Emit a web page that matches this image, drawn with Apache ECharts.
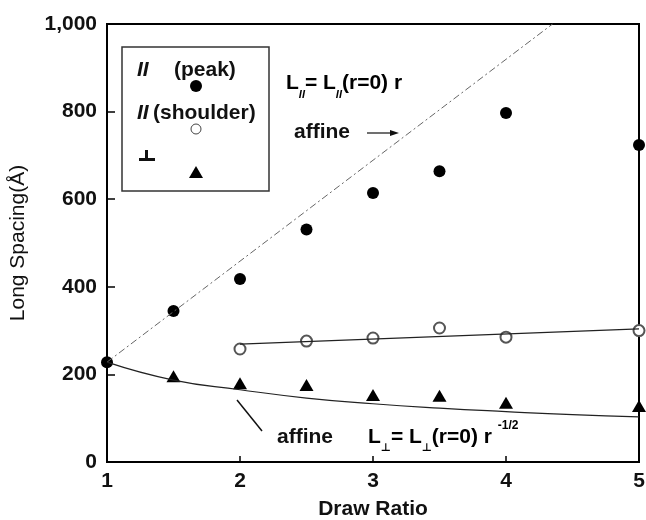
<!DOCTYPE html>
<html>
<head>
<meta charset="utf-8">
<style>
  html, body { margin: 0; padding: 0; background: #fff; }
  #chart { width: 646px; height: 520px; }
</style>
<script src="https://cdn.jsdelivr.net/npm/echarts@6/dist/echarts.min.js"></script>
</head>
<body>
<div id="chart"></div>
<script>
  // measured points (draw ratio, long spacing in Å)
  const peakX = [1, 1.5, 2, 2.5, 3, 3.5, 4, 5];
  const peakY = [228, 345, 418, 531, 614, 664, 797, 724];
  const shoulderX = [2, 2.5, 3, 3.5, 4, 5];
  const shoulderY = [258, 276, 283, 306, 285, 300];
  const perpX = [1.5, 2, 2.5, 3, 3.5, 4, 5];
  const perpY = [196, 180, 176, 153, 151, 135, 128];

  // drawn guide lines
  const affineParX = [1, 4.35];
  const affineParY = [228, 1000];
  const shoulderFitX = [2, 5];
  const shoulderFitY = [269, 304];
  const affinePerpX = [1, 1.5, 2, 2.5, 3, 3.5, 4, 4.5, 5];
  const affinePerpY = [228, 187, 165, 146, 133, 123, 115, 108, 103];

  const xTicks = [1, 2, 3, 4, 5];
  const yTicks = [0, 200, 400, 600, 800, 1000];

  const FONT = '"Liberation Sans", Arial, sans-serif';
  const zip = (xs, ys) => xs.map((x, i) => [x, ys[i]]);

  const chart = echarts.init(document.getElementById('chart'));

  const rich = {
    m: { fontFamily: FONT, fontSize: 21, fontWeight: 'bold', color: '#111', lineHeight: 22, verticalAlign: 'middle' },
    sub: { fontFamily: FONT, fontSize: 11, fontWeight: 'bold', fontStyle: 'italic', color: '#111', lineHeight: 34, verticalAlign: 'bottom' },
    subp: { fontFamily: '"DejaVu Sans", sans-serif', fontSize: 11, fontWeight: 'bold', color: '#111', lineHeight: 34, verticalAlign: 'bottom' },
    sup: { fontFamily: FONT, fontSize: 12, fontWeight: 'bold', color: '#111', lineHeight: 34, verticalAlign: 'top' },
  };

  const textStyle = (extra) => Object.assign({
    fontFamily: FONT, fontSize: 21, fontWeight: 'bold', fill: '#111',
  }, extra);

  chart.setOption({
    animation: false,
    backgroundColor: '#fff',
    grid: {
      left: 107, top: 24, right: 7, bottom: 58,
      outerBoundsMode: 'none',
      show: true, borderColor: '#000', borderWidth: 2,
    },
    xAxis: {
      type: 'value',
      min: xTicks[0],
      max: xTicks[xTicks.length - 1],
      interval: 1,
      name: 'Draw Ratio',
      nameLocation: 'middle',
      nameGap: 37,
      nameTextStyle: { fontFamily: FONT, fontSize: 21, fontWeight: 'bold', color: '#111' },
      axisLine: { lineStyle: { color: '#000', width: 2 } },
      axisTick: { inside: true, length: 6, lineStyle: { color: '#000', width: 1.5 } },
      axisLabel: { margin: 9, fontFamily: FONT, fontSize: 21, fontWeight: 'bold', color: '#111' },
      splitLine: { show: false },
    },
    yAxis: {
      type: 'value',
      min: yTicks[0],
      max: yTicks[yTicks.length - 1],
      interval: 200,
      name: 'Long Spacing(Å)',
      nameLocation: 'middle',
      nameGap: 78,
      nameTextStyle: { fontFamily: FONT, fontSize: 21, color: '#111' },
      axisLine: { lineStyle: { color: '#000', width: 2 } },
      axisTick: { inside: true, length: 8, lineStyle: { color: '#000', width: 1.5 } },
      axisLabel: {
        margin: 10, fontFamily: FONT, fontSize: 21, fontWeight: 'bold', color: '#111',
        formatter: (v) => v.toLocaleString('en-US'),
      },
      splitLine: { show: false },
    },
    series: [
      {
        type: 'line', name: 'affine //', data: zip(affineParX, affineParY),
        showSymbol: false, clip: true,
        lineStyle: { color: '#666', width: 1, type: [7, 3, 2, 3] },
      },
      {
        type: 'line', name: 'shoulder fit', data: zip(shoulderFitX, shoulderFitY),
        showSymbol: false,
        lineStyle: { color: '#222', width: 1.2 },
      },
      {
        type: 'line', name: 'affine perp', data: zip(affinePerpX, affinePerpY),
        showSymbol: false, smooth: true,
        lineStyle: { color: '#222', width: 1.2 },
      },
      {
        type: 'scatter', name: 'peak', data: zip(peakX, peakY), clip: false,
        symbol: 'circle', symbolSize: 12,
        itemStyle: { color: '#000', opacity: 1 },
      },
      {
        type: 'scatter', name: 'shoulder', data: zip(shoulderX, shoulderY), clip: false,
        symbol: 'emptyCircle', symbolSize: 11,
        itemStyle: { color: '#555', borderColor: '#555', borderWidth: 1, opacity: 1 },
      },
      {
        type: 'scatter', name: 'perp', data: zip(perpX, perpY), clip: false,
        symbol: 'triangle', symbolSize: [14, 12],
        itemStyle: { color: '#000', opacity: 1 },
      },
    ],
    graphic: [
      // legend box
      { type: 'rect', shape: { x: 122, y: 47, width: 147, height: 144 },
        style: { fill: '#fff', stroke: '#333', lineWidth: 1.5 }, z: 10 },
      { type: 'text', x: 137, y: 70, z: 11,
        style: textStyle({ text: 'II', fontStyle: 'italic', verticalAlign: 'middle' }) },
      { type: 'text', x: 174, y: 70, z: 11,
        style: textStyle({ text: '(peak)', verticalAlign: 'middle' }) },
      { type: 'circle', shape: { cx: 196, cy: 86, r: 6 }, style: { fill: '#000' }, z: 11 },
      { type: 'text', x: 137, y: 113, z: 11,
        style: textStyle({ text: 'II', fontStyle: 'italic', verticalAlign: 'middle' }) },
      { type: 'text', x: 153, y: 113, z: 11,
        style: textStyle({ text: '(shoulder)', verticalAlign: 'middle' }) },
      { type: 'circle', shape: { cx: 196, cy: 129, r: 5 }, style: { fill: 'none', stroke: '#444', lineWidth: 1 }, z: 11 },
      // perpendicular sign drawn as two bars
      { type: 'rect', shape: { x: 139, y: 158, width: 16, height: 3 }, style: { fill: '#111' }, z: 11 },
      { type: 'rect', shape: { x: 145, y: 150, width: 3, height: 9 }, style: { fill: '#111' }, z: 11 },
      { type: 'polygon', shape: { points: [[196, 166], [203, 178], [189, 178]] }, style: { fill: '#000' }, z: 11 },

      // upper annotation
      { type: 'text', x: 286, y: 83, z: 11,
        style: { text: '{m|L}{sub|II}{m|= L}{sub|II}{m|(r=0) r}', rich: rich, verticalAlign: 'middle' } },
      { type: 'text', x: 294, y: 132, z: 11,
        style: textStyle({ text: 'affine', verticalAlign: 'middle' }) },
      { type: 'line', shape: { x1: 367, y1: 133, x2: 396, y2: 133 }, style: { stroke: '#111', lineWidth: 1.2 }, z: 11 },
      { type: 'polygon', shape: { points: [[399, 133], [390, 130], [390, 136]] }, style: { fill: '#111' }, z: 11 },

      // lower annotation
      { type: 'line', shape: { x1: 262, y1: 431, x2: 237, y2: 400 }, style: { stroke: '#111', lineWidth: 1.5 }, z: 11 },
      { type: 'text', x: 277, y: 437, z: 11,
        style: textStyle({ text: 'affine', verticalAlign: 'middle' }) },
      { type: 'text', x: 368, y: 437, z: 11,
        style: { text: '{m|L}{subp|⊥}{m|= L}{subp|⊥}{m|(r=0) r }{sup|-1/2}', rich: rich, verticalAlign: 'middle' } },
    ],
  });

  window.addEventListener('resize', () => {
    chart.resize();
  });
</script>
</body>
</html>
